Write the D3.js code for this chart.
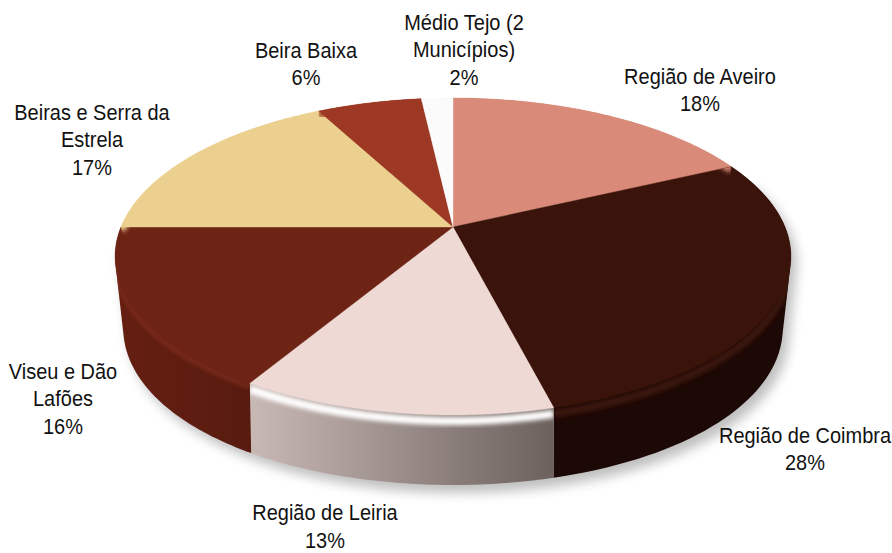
<!DOCTYPE html>
<html><head><meta charset="utf-8">
<script src="https://cdn.jsdelivr.net/npm/d3@7"></script>
<style>html,body{margin:0;background:#fff}svg{display:block}text{font-family:"Liberation Sans",Arial,sans-serif;font-size:21.6px;fill:#111;text-anchor:middle}</style>
</head><body><svg id="c" width="892" height="553"></svg>
<script>
const categories = ["Região de Aveiro","Região de Coimbra","Região de Leiria","Viseu e Dão Lafões","Beiras e Serra da Estrela","Beira Baixa","Médio Tejo (2 Municípios)"];
const values = [18,28,12.6,16.4,17.2,6,1.8];
const labelLines = [["Região de Aveiro","18%"],["Região de Coimbra","28%"],["Região de Leiria","13%"],["Viseu e Dão","Lafões","16%"],["Beiras e Serra da","Estrela","17%"],["Beira Baixa","6%"],["Médio Tejo (2","Municípios)","2%"]];
const topColors = ["#d98a78","#3a130b","#efd9d5","#6e2415","#ecd08f","#9c3823","#fbfbfb"];
const wallLight = ["#d98a78","#1c0805","#c9b9b5","#651f12","#ecd08f","#9c3823","#fbfbfb"];
const wallDark  = ["#d98a78","#1c0805","#6c615d","#581b0f","#ecd08f","#9c3823","#fbfbfb"];
const rimColors = ["#d98a78","#3a130b","#ffffff","#7a2a1a","#ecd08f","#9c3823","#fbfbfb"];
const labelPos = [[700,84],[805,443],[325,520.5],[63,379],[92,120],[306,58],[464,30]];

const svg = d3.select("#c");
const defs = svg.append("defs");
const blur = (id,s)=>defs.append("filter").attr("id",id).attr("x","-20%").attr("y","-20%").attr("width","140%").attr("height","140%").append("feGaussianBlur").attr("stdDeviation",s);
blur("sh",6); blur("rim",2.2);

const X0=453,Y0=227,R=332,S=153,K=0.186,DEPTH=70;
const proj=(a,d=0)=>{const u=Math.sin(a),v=-Math.cos(a),w=1-K*v,t=d/DEPTH*0.025*u*u;return [X0+R*u/w*(1-t), Y0+S*v/w+d];};
const arcPts=(a0,a1,d=0)=>d3.range(0,61).map(i=>proj(a0+(a1-a0)*i/60,d));
const line=d3.line().curve(d3.curveLinear);
const arcs=d3.pie().sort(null).value(d=>d)(values);

arcs.forEach((s,i)=>{
  const g=defs.append("linearGradient").attr("id","w"+i).attr("gradientUnits","userSpaceOnUse")
    .attr("x1",proj(s.endAngle)[0]).attr("x2",proj(s.startAngle)[0]).attr("y1",0).attr("y2",0);
  g.append("stop").attr("offset",0).attr("stop-color",wallLight[i]);
  g.append("stop").attr("offset",1).attr("stop-color",wallDark[i]);
});
// wall = hull of the upper and lower rim, which keeps the silhouette smooth
const wallPath=s=>line(d3.polygonHull([...arcPts(s.startAngle,s.endAngle),...arcPts(s.startAngle,s.endAngle,DEPTH)]))+"Z";
const topPath=s=>line([[X0,Y0],...arcPts(s.startAngle,s.endAngle)])+"Z";

svg.append("path").attr("d",wallPath({startAngle:Math.PI*0.4,endAngle:Math.PI*1.5}))
  .attr("transform","translate(6,8)").attr("fill","#000").attr("opacity",0.25).attr("filter","url(#sh)");

svg.append("g").selectAll("path").data(arcs).join("path").attr("d",wallPath).attr("fill",(d,i)=>`url(#w${i})`);
svg.append("g").selectAll("path").data(arcs).join("path").attr("d",topPath).attr("fill",(d,i)=>topColors[i]).attr("stroke",(d,i)=>topColors[i]).attr("stroke-width",0.4);

arcs.forEach((s,i)=>{
  defs.append("clipPath").attr("id","cl"+i).append("path").attr("d",topPath(s)+wallPath(s));
  svg.append("g").attr("clip-path",`url(#cl${i})`).append("path")
    .attr("d",line(arcPts(s.startAngle,s.endAngle,i===1||i===2?6:3)))
    .attr("fill","none").attr("stroke",rimColors[i]).attr("stroke-width",i===3?5:8)
    .attr("filter","url(#rim)");
});

const SX=0.925;
const lab=svg.append("g").attr("transform",`scale(${SX},1)`).selectAll("text").data(labelLines).join("text")
  .attr("x",(d,i)=>labelPos[i][0]/SX).attr("y",(d,i)=>labelPos[i][1]);
lab.selectAll("tspan").data((d,i)=>d.map(t=>({t,x:labelPos[i][0]/SX}))).join("tspan")
  .attr("x",d=>d.x).attr("dy",(d,j)=>j?27.5:0).text(d=>d.t);
</script></body></html>
